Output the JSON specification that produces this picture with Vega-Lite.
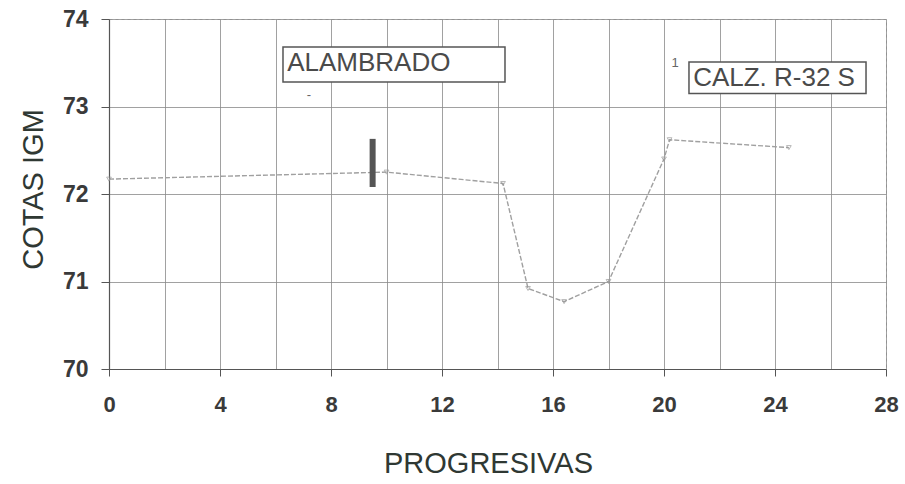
{
  "$schema": "https://vega.github.io/schema/vega-lite/v6.json",
  "autosize": "none",
  "width": 777,
  "height": 350,
  "padding": {"left": 109, "top": 19, "right": 19, "bottom": 115},
  "background": "white",
  "config": {
    "font": "Liberation Sans",
    "view": {"stroke": "#b0b0b0", "strokeDash": [3, 3], "strokeWidth": 1}
  },
  "datasets": {
    "profile": [
      {"progresiva": 0, "cota": 72.17},
      {"progresiva": 10, "cota": 72.25},
      {"progresiva": 14.2, "cota": 72.12},
      {"progresiva": 15.1, "cota": 70.92},
      {"progresiva": 16.4, "cota": 70.77},
      {"progresiva": 18, "cota": 71.0},
      {"progresiva": 20, "cota": 72.4},
      {"progresiva": 20.2, "cota": 72.62},
      {"progresiva": 24.5, "cota": 72.53}
    ],
    "boxes": [
      {"label": "ALAMBRADO", "x1": 6.27, "x2": 14.27, "y1": 73.28, "y2": 73.68, "tx": 6.42, "ty": 73.5},
      {"label": "CALZ. R-32 S", "x1": 20.9, "x2": 27.28, "y1": 73.15, "y2": 73.51, "tx": 21.05, "ty": 73.33}
    ],
    "marker": [
      {"progresiva": 9.5, "cota_min": 72.08, "cota_max": 72.63}
    ],
    "marks_small": [
      {"label": "-", "x": 7.2, "y": 73.13},
      {"label": "1", "x": 20.4, "y": 73.5}
    ]
  },
  "layer": [
    {
      "data": {"name": "profile"},
      "mark": {"type": "line", "color": "#a0a0a0", "strokeWidth": 1.4, "strokeDash": [5, 2]},
      "encoding": {
        "x": {
          "field": "progresiva", "type": "quantitative",
          "scale": {"domain": [0, 28], "nice": false, "zero": false},
          "axis": {
            "values": [0, 2, 4, 6, 8, 10, 12, 14, 16, 18, 20, 22, 24, 26, 28],
            "labelExpr": "datum.value % 4 == 0 ? datum.label : ''",
            "gridColor": "#8a8a8a", "gridWidth": 1, "gridOpacity": 0.8,
            "domainColor": "#555", "domainWidth": 1.2,
            "tickColor": "#555", "tickSize": 7,
            "tickOpacity": {"condition": {"test": "datum.value % 4 == 0", "value": 1}, "value": 0},
            "labelFont": "Liberation Sans", "labelFontSize": 22, "labelFontWeight": "bold",
            "labelColor": "#3a3a3a", "labelPadding": 18, "labelFlush": false, "labelOverlap": false,
            "title": "PROGRESIVAS", "titleFont": "Liberation Sans", "titleFontSize": 29,
            "titleFontWeight": "normal", "titleColor": "#2f3833",
            "titleX": 379, "titleY": 94, "titleBaseline": "middle", "titleAlign": "center"
          }
        },
        "y": {
          "field": "cota", "type": "quantitative",
          "scale": {"domain": [70, 74], "nice": false, "zero": false},
          "axis": {
            "values": [70, 71, 72, 73, 74],
            "format": "d",
            "gridColor": "#8a8a8a", "gridWidth": 1, "gridOpacity": 0.8,
            "domainColor": "#555", "domainWidth": 1.2,
            "tickColor": "#555", "tickSize": 8,
            "labelFont": "Liberation Sans", "labelFontSize": 23, "labelFontWeight": "bold",
            "labelColor": "#3a3a3a", "labelPadding": 13, "labelFlush": false,
            "title": "COTAS IGM", "titleFont": "Liberation Sans", "titleFontSize": 29,
            "titleFontWeight": "normal", "titleColor": "#2f3833",
            "titleAngle": -90, "titleX": -76, "titleY": 170, "titleBaseline": "middle", "titleAlign": "center"
          }
        }
      }
    },
    {
      "data": {"name": "profile"},
      "mark": {"type": "point", "shape": "triangle-down", "size": 22, "filled": false, "color": "#999", "strokeWidth": 1},
      "encoding": {
        "x": {"field": "progresiva", "type": "quantitative"},
        "y": {"field": "cota", "type": "quantitative"}
      }
    },
    {
      "data": {"name": "marker"},
      "mark": {"type": "rule", "color": "#555", "strokeWidth": 6},
      "encoding": {
        "x": {"field": "progresiva", "type": "quantitative"},
        "y": {"field": "cota_min", "type": "quantitative"},
        "y2": {"field": "cota_max"}
      }
    },
    {
      "data": {"name": "boxes"},
      "mark": {"type": "rect", "fill": "white", "stroke": "#555", "strokeWidth": 1.5},
      "encoding": {
        "x": {"field": "x1", "type": "quantitative"},
        "x2": {"field": "x2"},
        "y": {"field": "y1", "type": "quantitative"},
        "y2": {"field": "y2"}
      }
    },
    {
      "data": {"name": "boxes"},
      "mark": {"type": "text", "align": "left", "baseline": "middle", "fontSize": 26, "color": "#4a4a4a", "font": "Liberation Sans"},
      "encoding": {
        "x": {"field": "tx", "type": "quantitative"},
        "y": {"field": "ty", "type": "quantitative"},
        "text": {"field": "label"}
      }
    },
    {
      "data": {"name": "marks_small"},
      "mark": {"type": "text", "align": "center", "baseline": "middle", "fontSize": 13, "color": "#666"},
      "encoding": {
        "x": {"field": "x", "type": "quantitative"},
        "y": {"field": "y", "type": "quantitative"},
        "text": {"field": "label"}
      }
    }
  ]
}
